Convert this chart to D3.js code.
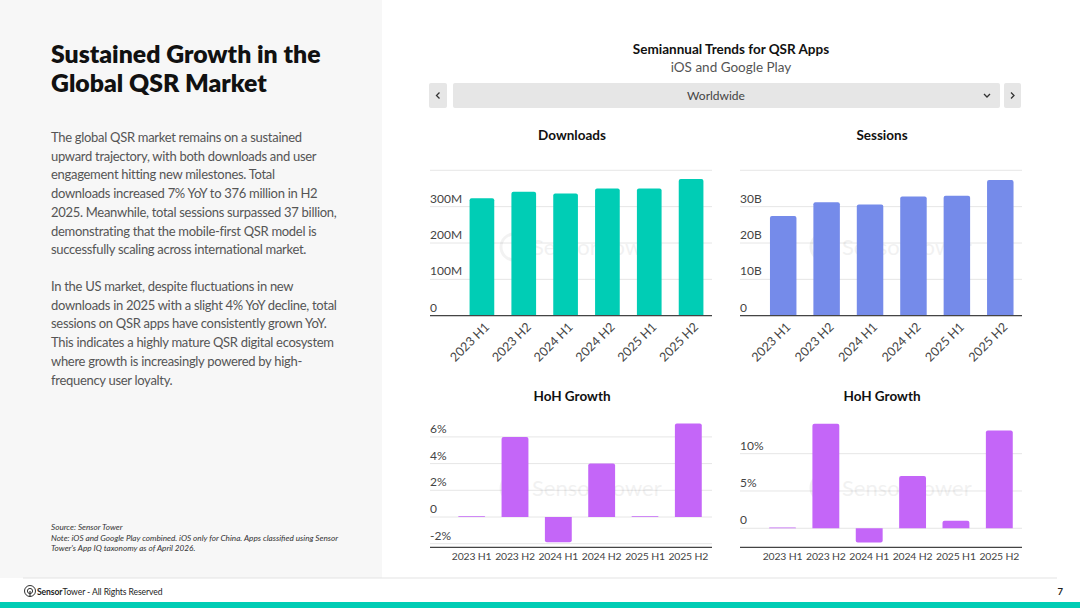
<!DOCTYPE html>
<html><head><meta charset="utf-8">
<script src="https://cdn.jsdelivr.net/npm/d3@7"></script>
<style>
html,body{margin:0;padding:0;background:#fff;}
svg{display:block;font-family:"Source Sans Pro",Lato,"Open Sans",sans-serif;}
</style></head>
<body>
<svg id="c" width="1080" height="608"></svg>
<script>
// ---- data ----
const categories = ["2023 H1","2023 H2","2024 H1","2024 H2","2025 H1","2025 H2"];
const downloads = [323, 341, 336, 350, 350, 376];           // millions
const sessions = [27.4, 31.2, 30.6, 32.8, 33.0, 37.3];      // billions
const downloadsGrowth = [0.05, 6.0, -1.9, 4.0, 0.05, 7.0];  // %
const sessionsGrowth = [0.1, 14.0, -1.9, 7.0, 1.0, 13.1];   // %
const downloadTicks = [0, 100, 200, 300, 400];
const sessionTicks = [0, 10, 20, 30, 40];
const dlGrowthTicks = [-2, 0, 2, 4, 6];
const ssGrowthTicks = [0, 5, 10];

const para1 = ["The global QSR market remains on a sustained",
"upward trajectory, with both downloads and user",
"engagement hitting new milestones. Total",
"downloads increased 7% YoY to 376 million in H2",
"2025. Meanwhile, total sessions surpassed 37 billion,",
"demonstrating that the mobile-first QSR model is",
"successfully scaling across international market."];
const para2 = ["In the US market, despite fluctuations in new",
"downloads in 2025 with a slight 4% YoY decline, total",
"sessions on QSR apps have consistently grown YoY.",
"This indicates a highly mature QSR digital ecosystem",
"where growth is increasingly powered by high-",
"frequency user loyalty."];

const svg = d3.select("#c");
const TEAL = "#00cdb5", BLUE = "#758bea", PURPLE = "#c466f8";

// left panel
svg.append("rect").attr("x",0).attr("y",0).attr("width",382).attr("height",578).attr("fill","#f7f7f7");
svg.append("text").attr("x",51).attr("y",63).attr("font-size",24.8).attr("font-weight",800).attr("fill","#111").text("Sustained Growth in the");
svg.append("text").attr("x",51).attr("y",92).attr("font-size",24.8).attr("font-weight",800).attr("fill","#111").text("Global QSR Market");
para1.forEach((t,i)=>svg.append("text").attr("x",51).attr("y",142+i*18.7).attr("font-size",13).attr("letter-spacing",-0.3).attr("fill","#555").text(t));
para2.forEach((t,i)=>svg.append("text").attr("x",51).attr("y",291+i*18.7).attr("font-size",13).attr("letter-spacing",-0.3).attr("fill","#555").text(t));
const notes = ["Source: Sensor Tower","Note: iOS and Google Play combined. iOS only for China. Apps classified using Sensor","Tower's App IQ taxonomy as of April 2026."];
notes.forEach((t,i)=>svg.append("text").attr("x",51).attr("y",530+i*10.6).attr("font-size",8.2).attr("font-style","italic").attr("fill","#333").text(t));

// footer
svg.append("line").attr("x1",23).attr("x2",1057).attr("y1",578).attr("y2",578).attr("stroke","#e3e3e3");
svg.append("rect").attr("x",0).attr("y",602).attr("width",1080).attr("height",6).attr("fill",TEAL);
const lg = svg.append("g").attr("transform","translate(30,591)");
lg.append("circle").attr("r",5.5).attr("fill","none").attr("stroke","#333").attr("stroke-width",1);
lg.append("circle").attr("r",2.6).attr("fill","none").attr("stroke","#333").attr("stroke-width",1);
lg.append("line").attr("x1",0).attr("x2",0).attr("y1",0).attr("y2",5.5).attr("stroke","#333").attr("stroke-width",1.2);
const ft = svg.append("text").attr("x",37).attr("y",594.5).attr("font-size",8.6).attr("letter-spacing",-0.1).attr("fill","#222");
ft.append("tspan").attr("font-weight",700).text("Sensor");
ft.append("tspan").text("Tower - All Rights Reserved");
svg.append("text").attr("x",1063).attr("y",594.5).attr("font-size",9.5).attr("font-weight",700).attr("text-anchor","end").attr("fill","#222").text("7");

// chart header
svg.append("text").attr("x",731).attr("y",54).attr("text-anchor","middle").attr("font-size",13.5).attr("font-weight",700).attr("fill","#111").text("Semiannual Trends for QSR Apps");
svg.append("text").attr("x",731).attr("y",72).attr("text-anchor","middle").attr("font-size",13.5).attr("fill","#555").text("iOS and Google Play");
svg.append("rect").attr("x",429).attr("y",83).attr("width",18).attr("height",25).attr("rx",2).attr("fill","#e6e6e6");
svg.append("rect").attr("x",453).attr("y",83).attr("width",547).attr("height",25).attr("rx",2).attr("fill","#e6e6e6");
svg.append("rect").attr("x",1004).attr("y",83).attr("width",17).attr("height",25).attr("rx",2).attr("fill","#e6e6e6");
svg.append("text").attr("x",716).attr("y",100).attr("text-anchor","middle").attr("font-size",12).attr("fill","#444").text("Worldwide");
svg.append("path").attr("d","M439.5,92.5 L436.5,95.5 L439.5,98.5").attr("fill","none").attr("stroke","#333").attr("stroke-width",1.3);
svg.append("path").attr("d","M1011,92.5 L1014,95.5 L1011,98.5").attr("fill","none").attr("stroke","#333").attr("stroke-width",1.3);
svg.append("path").attr("d","M984,94 L987,97 L990,94").attr("fill","none").attr("stroke","#333").attr("stroke-width",1.3);

function watermark(cx, cy){
  const g = svg.append("g").attr("opacity",0.05);
  g.append("circle").attr("cx",cx-62).attr("cy",cy).attr("r",13).attr("fill","none").attr("stroke","#000").attr("stroke-width",3);
  g.append("text").attr("x",cx-44).attr("y",cy+8).attr("font-size",22).attr("fill","#000").text("Sensor Tower");
}

function barChart(o){
  const x = d3.scaleBand().domain(categories).range([o.bx0,o.bx1]).paddingInner(o.pad).paddingOuter(o.pad/2);
  const y = d3.scaleLinear().domain(o.domain).range([o.y0,o.y1]);
  svg.append("text").attr("x",o.titleX).attr("y",o.titleY).attr("text-anchor","middle").attr("font-size",13.5).attr("font-weight",700).attr("fill","#111").text(o.title);
  const grid = svg.append("g");
  grid.selectAll("line").data(o.ticks).join("line")
    .attr("x1",o.gx0).attr("x2",o.gx1).attr("y1",d=>y(d)).attr("y2",d=>y(d))
    .attr("stroke","#e6e6e6").attr("stroke-width",1);
  grid.selectAll("text").data(o.ticks.filter(o.labelFilter)).join("text")
    .attr("x",o.gx0).attr("y",d=>y(d)-4).attr("font-size",12).attr("fill","#444").text(o.fmt);
  watermark((o.gx0+o.gx1)/2+5, (o.y0+o.y1)/2+4);
  svg.append("g").selectAll("path").data(o.values).join("path")
    .attr("fill",o.color)
    .attr("d",(d,i)=>{
      const x0 = x(categories[i]), w = x.bandwidth();
      const top = y(Math.max(0,d)), bot = y(Math.min(0,d));
      const r = Math.min(2, Math.abs(bot-top)/2);
      if (d>=0) return `M${x0},${bot}V${top+r}Q${x0},${top} ${x0+r},${top}H${x0+w-r}Q${x0+w},${top} ${x0+w},${top+r}V${bot}Z`;
      return `M${x0},${top}V${bot-r}Q${x0},${bot} ${x0+r},${bot}H${x0+w-r}Q${x0+w},${bot} ${x0+w},${bot-r}V${top}Z`;
    });
  svg.append("line").attr("x1",o.gx0).attr("x2",o.gx1).attr("y1",o.y0).attr("y2",o.y0).attr("stroke","#444").attr("stroke-width",1.3);
  const lab = svg.append("g");
  if (o.rotate){
    lab.selectAll("text").data(categories).join("text")
      .attr("transform",d=>`translate(${x(d)+x.bandwidth()/2+5},${o.y0+9}) rotate(-45)`)
      .attr("text-anchor","end").attr("dy","0.35em").attr("font-size",12.5).attr("fill","#444").text(d=>d);
  } else {
    lab.selectAll("text").data(categories).join("text")
      .attr("x",d=>x(d)+x.bandwidth()/2).attr("y",o.y0+13)
      .attr("text-anchor","middle").attr("font-size",10.4).attr("letter-spacing",-0.15).attr("fill","#444").text(d=>d);
  }
}

barChart({title:"Downloads",titleX:572,titleY:140,values:downloads,color:TEAL,domain:[0,400],y0:315.7,y1:170.3,
  ticks:downloadTicks,labelFilter:d=>d<400,fmt:d=>d===0?"0":d+"M",gx0:430,gx1:712,bx0:461,bx1:712,pad:0.41,rotate:true});
barChart({title:"Sessions",titleX:882,titleY:140,values:sessions,color:BLUE,domain:[0,40],y0:315.7,y1:170.3,
  ticks:sessionTicks,labelFilter:d=>d<40,fmt:d=>d===0?"0":d+"B",gx0:740,gx1:1022,bx0:761.5,bx1:1022,pad:0.39,rotate:true});
barChart({title:"HoH Growth",titleX:572,titleY:401,values:downloadsGrowth,color:PURPLE,domain:[-2.27,7.2],y0:547.3,y1:420.9,
  ticks:dlGrowthTicks,labelFilter:d=>true,fmt:d=>d===0?"0":d+"%",gx0:430,gx1:712,bx0:450,bx1:710,pad:0.38,rotate:false});
barChart({title:"HoH Growth",titleX:882,titleY:401,values:sessionsGrowth,color:PURPLE,domain:[-2.55,14.5],y0:547.3,y1:420.1,
  ticks:ssGrowthTicks,labelFilter:d=>true,fmt:d=>d===0?"0":d+"%",gx0:740,gx1:1022,bx0:760.8,bx1:1021,pad:0.38,rotate:false});
</script>
</body></html>
